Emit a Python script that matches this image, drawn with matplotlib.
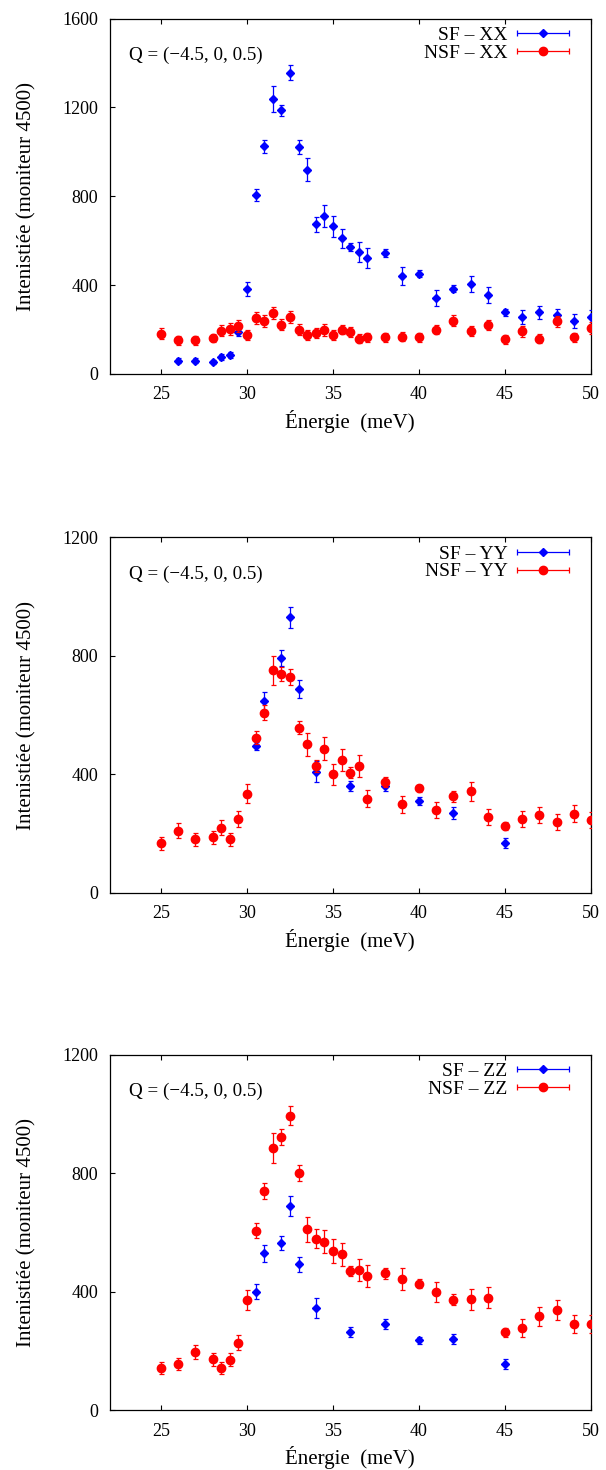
import numpy as np
import matplotlib
matplotlib.use("Agg")
import matplotlib.pyplot as plt
from matplotlib.legend_handler import HandlerErrorbar

plt.rcParams["font.family"] = "serif"
plt.rcParams["font.serif"] = ["Liberation Serif", "DejaVu Serif"]
plt.rcParams["font.size"] = 13

# energy grids
E_NSF = [25, 26, 27, 28, 28.5, 29, 29.5, 30, 30.5, 31, 31.5, 32, 32.5, 33, 33.5,
         34, 34.5, 35, 35.5, 36, 36.5, 37, 38, 39, 40, 41, 42, 43, 44, 45, 46,
         47, 48, 49, 50]
E_SF_XX = [26, 27, 28, 28.5, 29, 29.5, 30, 30.5, 31, 31.5, 32, 32.5, 33, 33.5,
           34, 34.5, 35, 35.5, 36, 36.5, 37, 38, 39, 40, 41, 42, 43, 44, 45, 46,
           47, 48, 49, 50]
E_SF_SHORT = [30.5, 31, 32, 32.5, 33, 34, 36, 38, 40, 42, 45]

# XX
I_SF_XX = [60, 60, 54, 77, 86, 188, 381, 808, 1025, 1239, 1188, 1357, 1022, 920,
           674, 710, 665, 611, 572, 548, 523, 545, 440, 452, 341, 384, 405, 356,
           278, 257, 278, 267, 239, 257]
ERR_SF_XX = [10, 10, 10, 12, 12, 15, 32, 27, 30, 60, 25, 35, 30, 52, 35, 50, 48,
             42, 20, 45, 45, 20, 40, 15, 35, 15, 35, 35, 15, 30, 30, 25, 30, 30]
I_NSF_XX = [182, 152, 152, 162, 195, 201, 218, 176, 251, 237, 273, 222, 255, 200,
            177, 185, 198, 177, 200, 189, 159, 165, 165, 168, 165, 200, 240, 195,
            219, 156, 192, 159, 237, 165, 207]
ERR_NSF_XX = [25, 20, 20, 20, 25, 27, 27, 22, 27, 27, 27, 25, 27, 25, 22, 22, 25,
              22, 22, 22, 20, 20, 20, 20, 20, 20, 25, 22, 22, 20, 25, 20, 25, 20, 25]

# YY
I_SF_YY = [495, 648, 793, 930, 688, 409, 360, 360, 310, 270, 167]
ERR_SF_YY = [13, 30, 27, 35, 30, 35, 18, 18, 14, 20, 17]
I_NSF_YY = [167, 210, 180, 187, 219, 180, 249, 334, 524, 608, 751, 739, 730, 557,
            501, 429, 487, 400, 449, 406, 429, 318, 375, 298, 353, 279, 326, 343,
            256, 226, 248, 263, 239, 267, 246]
ERR_NSF_YY = [22, 25, 22, 22, 25, 22, 27, 32, 22, 25, 50, 25, 27, 22, 40, 20, 40,
              35, 37, 20, 37, 30, 17, 30, 12, 28, 18, 32, 27, 14, 27, 28, 27, 28, 28]

# ZZ
I_SF_ZZ = [400, 529, 565, 689, 492, 345, 262, 292, 236, 239, 155]
ERR_SF_ZZ = [25, 30, 23, 33, 25, 35, 17, 17, 12, 17, 17]
I_NSF_ZZ = [142, 155, 195, 172, 142, 169, 227, 372, 605, 740, 885, 923, 994, 801,
            610, 578, 569, 536, 526, 470, 473, 453, 462, 443, 427, 399, 373, 374,
            380, 262, 276, 316, 338, 291, 291]
ERR_NSF_ZZ = [20, 20, 23, 22, 20, 22, 25, 35, 25, 27, 52, 27, 32, 27, 42, 32, 40,
              40, 38, 18, 38, 37, 18, 37, 14, 35, 18, 35, 35, 15, 30, 33, 33, 30, 30]

panels = [
    ("XX", E_SF_XX, I_SF_XX, ERR_SF_XX, I_NSF_XX, ERR_NSF_XX, [0, 400, 800, 1200, 1600]),
    ("YY", E_SF_SHORT, I_SF_YY, ERR_SF_YY, I_NSF_YY, ERR_NSF_YY, [0, 400, 800, 1200]),
    ("ZZ", E_SF_SHORT, I_SF_ZZ, ERR_SF_ZZ, I_NSF_ZZ, ERR_NSF_ZZ, [0, 400, 800, 1200]),
]
bottoms = [0.7456, 0.3927, 0.0408]

BLUE = "#0000ff"
RED = "#ff0000"

fig = plt.figure(figsize=(6.06, 14.7), dpi=100)
for (comp, e_sf, i_sf, err_sf, i_nsf, err_nsf, yticks), b in zip(panels, bottoms):
    ax = fig.add_axes([0.1807, b, 0.7946, 0.2417])
    ax.errorbar(e_sf, i_sf, yerr=err_sf, fmt="D", ms=4.5, color=BLUE,
                elinewidth=0.9, capsize=1.8, capthick=0.9, zorder=3)
    ax.errorbar(E_NSF, i_nsf, yerr=err_nsf, fmt="o", ms=6, color=RED,
                elinewidth=0.9, capsize=1.8, capthick=0.9, zorder=4)
    # legend samples (horizontal bars, gnuplot style)
    h_sf = ax.errorbar([np.nan], [np.nan], xerr=[1], fmt="D", ms=4.5, color=BLUE,
                       elinewidth=0.9, capsize=2.2, capthick=0.9, label=f"SF – {comp}")
    h_nsf = ax.errorbar([np.nan], [np.nan], xerr=[1], fmt="o", ms=6, color=RED,
                        elinewidth=0.9, capsize=2.2, capthick=0.9, label=f"NSF – {comp}")
    ax.legend(handles=[h_sf, h_nsf], loc="upper right", bbox_to_anchor=(0.954, 0.978),
              frameon=False, markerfirst=False, borderpad=0, borderaxespad=0,
              handlelength=2.65, handletextpad=0.5, labelspacing=0.0, fontsize=14,
              handler_map={type(h_sf): HandlerErrorbar(xerr_size=1.33)})
    ax.text(0.04, 0.897, "Q = (−4.5, 0, 0.5)", transform=ax.transAxes,
            ha="left", va="center", fontsize=13.7)

    ax.set_xlim(22, 50)
    ax.set_ylim(yticks[0], yticks[-1])
    ax.set_xticks([25, 30, 35, 40, 45, 50])
    ax.set_yticks(yticks)
    ax.tick_params(direction="in", top=True, right=False, length=3.6, width=0.8,
                   labelsize=13)
    ax.tick_params(axis="x", pad=9)
    ax.tick_params(axis="y", pad=8)
    for s in ax.spines.values():
        s.set_linewidth(0.9)
    ax.set_xlabel("Énergie  (meV)", fontsize=15, labelpad=5)
    ax.set_ylabel("Intenistiée (moniteur 4500)", fontsize=15, labelpad=19)

fig.savefig("out.png", dpi=100)
